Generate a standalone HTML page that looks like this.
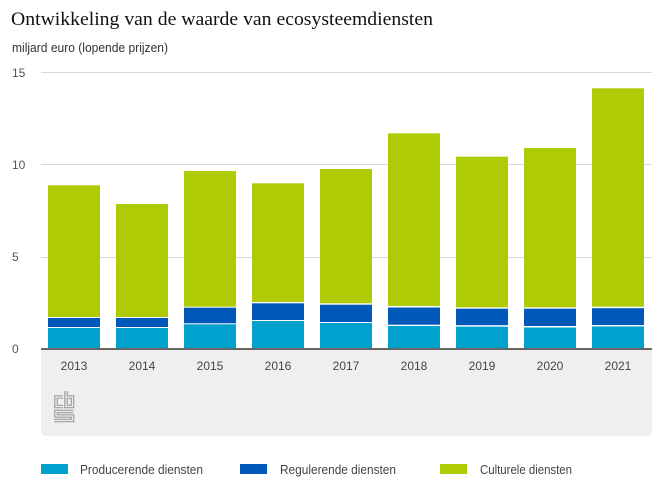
<!DOCTYPE html>
<html><head><meta charset="utf-8"><style>
html,body{margin:0;padding:0;background:#fff;}
svg{display:block;}
</style></head><body>
<svg width="663" height="497" viewBox="0 0 663 497" xmlns="http://www.w3.org/2000/svg">
<rect width="663" height="497" fill="#fff"/>
<text x="11" y="25" font-family="Liberation Serif, serif" font-size="19" fill="#111" textLength="422" lengthAdjust="spacingAndGlyphs">Ontwikkeling van de waarde van ecosysteemdiensten</text>
<text x="12" y="52" font-family="Liberation Sans, sans-serif" font-size="12.5" fill="#333" textLength="156" lengthAdjust="spacingAndGlyphs">miljard euro (lopende prijzen)</text>
<!-- grid -->
<g stroke="#d9d9d9" stroke-width="1">
<line x1="41" y1="72.5" x2="652" y2="72.5"/>
<line x1="41" y1="164.5" x2="652" y2="164.5"/>
<line x1="41" y1="257.5" x2="652" y2="257.5"/>
</g>
<g font-family="Liberation Sans, sans-serif" font-size="12" fill="#555">
<text x="12" y="77">15</text>
<text x="12" y="169">10</text>
<text x="12" y="261">5</text>
<text x="12" y="353">0</text>
</g>
<!-- panel -->
<path d="M41 350 H652 V430 Q652 436 646 436 H47 Q41 436 41 430 Z" fill="#efefef"/>
<!-- bars -->
<g>
<rect x="48" y="185.3" width="52" height="131.7" fill="#afcb05"/>
<rect x="48" y="318" width="52" height="9" fill="#0058b8"/>
<rect x="48" y="328" width="52" height="21" fill="#00a1cd"/>
<rect x="116" y="204" width="52" height="113" fill="#afcb05"/>
<rect x="116" y="318" width="52" height="9" fill="#0058b8"/>
<rect x="116" y="328" width="52" height="21" fill="#00a1cd"/>
<rect x="184" y="171" width="52" height="135.7" fill="#afcb05"/>
<rect x="184" y="307.7" width="52" height="15.6" fill="#0058b8"/>
<rect x="184" y="324.3" width="52" height="24.7" fill="#00a1cd"/>
<rect x="252" y="183.3" width="52" height="118.7" fill="#afcb05"/>
<rect x="252" y="303.3" width="52" height="16.7" fill="#0058b8"/>
<rect x="252" y="321" width="52" height="28" fill="#00a1cd"/>
<rect x="320" y="169" width="52" height="134.3" fill="#afcb05"/>
<rect x="320" y="304.7" width="52" height="17.3" fill="#0058b8"/>
<rect x="320" y="323" width="52" height="26" fill="#00a1cd"/>
<rect x="388" y="133.3" width="52" height="172.7" fill="#afcb05"/>
<rect x="388" y="307.5" width="52" height="17.2" fill="#0058b8"/>
<rect x="388" y="326" width="52" height="23" fill="#00a1cd"/>
<rect x="456" y="156.7" width="52" height="150.6" fill="#afcb05"/>
<rect x="456" y="308.7" width="52" height="16.5" fill="#0058b8"/>
<rect x="456" y="326.7" width="52" height="22.3" fill="#00a1cd"/>
<rect x="524" y="148" width="52" height="159.3" fill="#afcb05"/>
<rect x="524" y="308.7" width="52" height="17.3" fill="#0058b8"/>
<rect x="524" y="327.5" width="52" height="21.5" fill="#00a1cd"/>
<rect x="592" y="88.3" width="52" height="218.4" fill="#afcb05"/>
<rect x="592" y="308.2" width="52" height="16.8" fill="#0058b8"/>
<rect x="592" y="326.4" width="52" height="22.6" fill="#00a1cd"/>
</g>
<line x1="41" y1="349" x2="652" y2="349" stroke="#666" stroke-width="2"/>
<g font-family="Liberation Sans, sans-serif" font-size="12" fill="#444" text-anchor="middle">
<text x="74" y="370">2013</text>
<text x="142" y="370">2014</text>
<text x="210" y="370">2015</text>
<text x="278" y="370">2016</text>
<text x="346" y="370">2017</text>
<text x="414" y="370">2018</text>
<text x="482" y="370">2019</text>
<text x="550" y="370">2020</text>
<text x="618" y="370">2021</text>
</g>
<!-- cbs logo -->
<g fill="none" stroke-linejoin="miter" stroke-linecap="butt">
<g stroke="#9e9e9e" stroke-width="3.6">
<path d="M63 397 H56 V406.5 H63"/>
<path d="M66 391 V406.5 H72.5 V397 H66"/>
<path d="M73.5 411.5 H56 V416 H72.5 V420.5 H54"/>
</g>
<g stroke="#efefef" stroke-width="1.2">
<path d="M63 397 H56 V406.5 H63"/>
<path d="M66 391 V406.5 H72.5 V397 H66"/>
<path d="M73.5 411.5 H56 V416 H72.5 V420.5 H54"/>
</g>
</g>
<!-- legend -->
<rect x="41" y="464" width="27" height="10" fill="#00a1cd"/>
<rect x="240" y="464" width="27" height="10" fill="#0058b8"/>
<rect x="440" y="464" width="27" height="10" fill="#afcb05"/>
<g font-family="Liberation Sans, sans-serif" font-size="12.5" fill="#444">
<text x="80" y="474" textLength="123" lengthAdjust="spacingAndGlyphs">Producerende diensten</text>
<text x="280" y="474" textLength="116" lengthAdjust="spacingAndGlyphs">Regulerende diensten</text>
<text x="480" y="474" textLength="92" lengthAdjust="spacingAndGlyphs">Culturele diensten</text>
</g>
</svg>
</body></html>
